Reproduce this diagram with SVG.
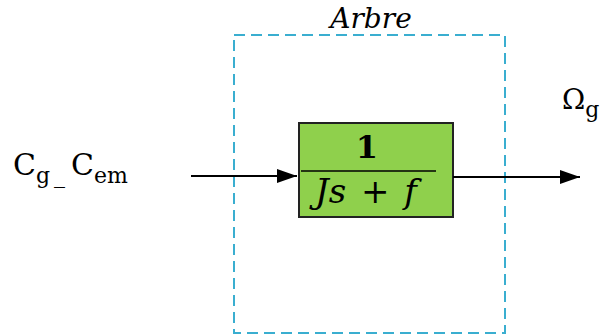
<svg xmlns="http://www.w3.org/2000/svg" width="601" height="336" viewBox="0 0 601 336">
<style>
.lbl{font-family:"DejaVu Serif","Liberation Serif",serif;fill:#000}
.conn{stroke:#000;stroke-width:2;fill:none}
</style>
<defs>
<marker id="ah" markerWidth="20" markerHeight="14" refX="20" refY="7" orient="auto" markerUnits="userSpaceOnUse">
<path d="M0,0 L20,7 L0,14 Z" fill="#000"/>
</marker>
</defs>
<rect width="601" height="336" fill="#fff"/>
<g id="arbre">
<rect x="234" y="35" width="271" height="298" fill="none" stroke="#3aaed0" stroke-width="2" stroke-dasharray="11,6"/>
<text class="lbl" x="371" y="28" font-size="28" font-style="italic" text-anchor="middle">Arbre</text>
</g>
<g id="tf">
<rect x="299" y="123" width="154" height="94" fill="#8fd04c" stroke="#222" stroke-width="2"/>
<line x1="301" y1="171" x2="436" y2="171" stroke="#000" stroke-width="1.5"/>
<text class="lbl" x="367" y="158" font-size="32" font-weight="600" text-anchor="middle">1</text>
<text class="lbl" x="366" y="203" font-size="34" font-style="italic" text-anchor="middle" word-spacing="4">Js + f</text>
</g>
<g id="input">
<text class="lbl" x="13" y="175" font-size="30">C<tspan font-size="22" dy="8">g</tspan><tspan x="54" y="183" font-size="22">_</tspan><tspan x="71" y="175">C</tspan><tspan font-size="22" dy="8">em</tspan></text>
</g>
<g id="output">
<text class="lbl" x="562" y="109" font-size="28">Ω<tspan font-size="22" dy="8">g</tspan></text>
</g>
<g id="connectors">
<line class="conn" x1="191" y1="176" x2="297" y2="176" marker-end="url(#ah)"/>
<line class="conn" x1="453" y1="177" x2="580" y2="177" marker-end="url(#ah)"/>
</g>
</svg>
